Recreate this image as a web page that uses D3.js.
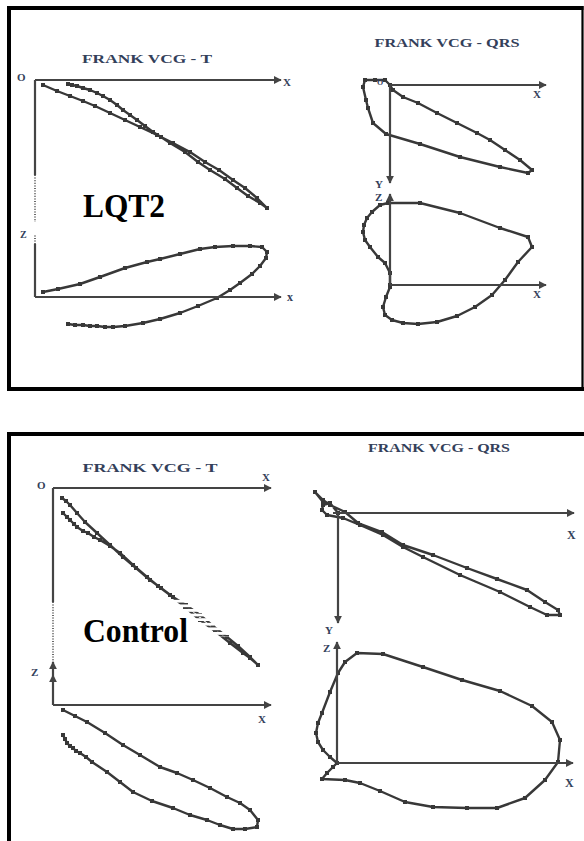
<!DOCTYPE html>
<html><head><meta charset="utf-8">
<script src="https://cdn.jsdelivr.net/npm/d3@7"></script>
<style>html,body{margin:0;padding:0;background:#fff;overflow:hidden}</style>
</head><body>
<script>
// ---------------- DATA (units: arbitrary VCG units, origin = 0) ----------------
// LQT2 – T loop, horizontal plane (X right, Y down)
const lqt2_T_XY = [[3.3,0.4],[3.7,0.5],[4.2,0.6],[4.8,0.8],[5.5,1.0],[6.2,1.3],[6.8,1.6],[7.5,2.0],[8.2,2.5],[8.8,3.0],[9.5,3.5],[10.2,4.0],[11.0,4.6],[11.8,5.2],[12.6,5.7],[13.5,6.3],[15.0,7.2],[16.3,8.2],[17.5,9.0],[19.0,9.9],[20.2,10.8],[21.3,11.6],[22.5,12.3],[23.2,12.8],
 [22.2,11.8],[21.0,10.8],[19.8,10.0],[18.4,9.0],[17.0,8.2],[15.5,7.2],[13.8,6.3],[12.2,5.5],[10.5,4.7],[9.0,4.0],[7.5,3.3],[6.0,2.6],[4.8,2.1],[3.5,1.6],[2.2,1.1],[0.8,0.5]];
// LQT2 – T loop, frontal plane (X right, Z up)
const lqt2_T_XZ = [[3.3,-2.7],[4.0,-2.8],[4.8,-2.8],[5.5,-2.9],[6.2,-2.9],[7.0,-3.0],[7.8,-3.0],[9.0,-2.9],[10.8,-2.6],[12.5,-2.2],[14.5,-1.6],[16.3,-0.9],[18.2,-0.1],[19.5,0.7],[20.5,1.4],[21.7,2.3],[22.5,3.1],[23.1,3.9],[23.2,4.5],[22.7,5.0],[21.5,5.1],[19.8,5.1],[18.0,5.0],[16.5,4.8],[14.5,4.3],[12.5,3.8],[11.2,3.5],[9.0,2.9],[6.5,2.0],[4.5,1.3],[2.3,0.8],[0.8,0.5]];
// LQT2 – QRS loop, horizontal plane
const lqt2_QRS_XY = [[0,0],[-0.5,-0.5],[-1.5,-0.5],[-2.5,-0.5],[-2.7,0.2],[-2.4,1.5],[-2.2,2.3],[-1.7,3.8],[-0.4,4.9],[3.0,5.9],[7.0,7.2],[11.0,8.2],[13.8,8.8],[14.2,8.5],[13.0,7.5],[11.5,6.5],[10.0,5.5],[8.7,4.8],[6.7,3.8],[4.7,2.8],[2.8,1.8],[1.3,1.2],[0.3,0.5],[0,0]];
// LQT2 – QRS loop, frontal plane
const lqt2_QRS_XZ = [[0,0],[0,1.2],[-0.5,2.2],[-1.2,2.8],[-2.0,3.8],[-2.5,4.5],[-2.7,5.3],[-2.6,6.0],[-2.3,6.7],[-1.8,7.3],[-1.0,8.0],[-0.2,8.2],[3.0,8.2],[7.0,7.2],[11.0,5.7],[13.8,4.8],[14.2,3.8],[12.8,2.3],[11.5,0.5],[10.2,-1.0],[8.5,-2.2],[6.7,-3.1],[4.7,-3.7],[2.8,-3.9],[1.3,-3.8],[0.2,-3.5],[-0.5,-3.0],[-0.7,-2.2],[-0.4,-1.2],[0,-0.2]];
// Control – T loop, horizontal plane
const ctrl_T_XY = [[1.0,2.5],[1.4,2.9],[1.7,3.2],[2.1,3.6],[2.4,3.9],[3.0,4.3],[3.5,4.5],[4.1,4.9],[4.7,5.2],[5.7,5.8],[6.7,6.5],[8.0,7.7],[9.4,8.9],[10.5,9.8],[11.7,10.7],[13.2,11.9],[14.7,13.2],[16.2,14.3],[17.7,15.5],[19.0,16.5],[19.7,17.0],[20.5,17.7],
 [19.7,16.9],[18.5,15.8],[17.4,14.9],[16.0,13.8],[14.7,12.7],[13.3,11.7],[12.0,10.9],[10.8,10.0],[9.7,9.2],[8.3,8.0],[7.0,6.9],[5.7,5.7],[4.4,4.5],[3.2,3.4],[2.4,2.5],[1.7,1.7],[1.3,1.3],[0.9,1.0]];
// Control – T loop, frontal plane
const ctrl_T_XZ = [[1.0,-3.0],[1.2,-3.4],[1.4,-3.8],[1.7,-4.1],[2.0,-4.3],[2.3,-4.6],[2.7,-4.8],[3.3,-5.2],[3.9,-5.7],[5.4,-6.7],[6.7,-7.7],[8.0,-8.7],[9.9,-9.6],[12.0,-10.3],[13.7,-11.0],[15.4,-11.5],[16.7,-12.0],[18.0,-12.4],[19.2,-12.4],[20.4,-12.2],[20.5,-11.5],[19.7,-10.5],[18.7,-9.8],[17.4,-9.2],[15.7,-8.3],[14.0,-7.5],[12.4,-6.8],[10.7,-6.2],[8.7,-5.0],[7.0,-4.0],[5.2,-2.8],[3.4,-1.7],[2.2,-1.1],[1.0,-0.5]];
// Control – QRS loop, horizontal plane
const ctrl_QRS_XY = [[0,0],[-0.8,-1.0],[-1.5,-1.1],[-2.3,-2.1],[-1.5,-1.3],[-0.8,-0.8],[0.7,-0.1],[2.0,1.0],[4.4,1.9],[6.5,3.2],[9.5,4.2],[12.9,5.5],[15.9,6.6],[18.9,7.7],[20.7,8.9],[22.0,9.7],[22.2,10.2],[20.9,10.2],[19.2,9.4],[16.2,7.9],[12.2,6.2],[8.5,4.4],[6.5,3.4],[4.5,2.2],[2.2,1.2],[0.5,0.5],[-1.1,0.2],[-1.6,-0.3],[-1.5,-0.8],[-0.8,-1.0]];
// Control – QRS loop, frontal plane
const ctrl_QRS_XZ = [[0,0],[-0.7,0.6],[-1.4,1.3],[-1.9,2.1],[-2.1,3.0],[-1.9,4.0],[-1.5,5.0],[-0.7,7.1],[0.1,9.0],[0.8,10.1],[2.0,11.0],[4.6,10.9],[8.6,9.6],[12.5,8.3],[16.3,7.2],[19.5,5.7],[21.5,4.1],[22.3,2.3],[22.1,0.1],[20.8,-1.7],[18.8,-3.5],[16.0,-4.5],[13.0,-4.5],[9.6,-4.4],[6.8,-3.9],[4.3,-2.8],[2.3,-2.0],[0.8,-1.7],[-1.5,-1.6],[-1.0,-1.0],[-0.4,-0.4],[0,0]];

const titlesT = "FRANK VCG -  T";
const titlesQRS = "FRANK VCG - QRS";
const groupLabels = ["LQT2", "Control"];

// ---------------- DRAWING ----------------
const W = 584, H = 841;
const svg = d3.select("body").append("svg").attr("width", W).attr("height", H)
  .style("display","block").style("background","#fff");
const defs = svg.append("defs");
defs.append("marker").attr("id","arr").attr("viewBox","0 0 10 10").attr("refX",9).attr("refY",5)
  .attr("markerWidth",8).attr("markerHeight",8).attr("markerUnits","userSpaceOnUse").attr("orient","auto")
  .append("path").attr("d","M0,0 L10,5 L0,10 z").attr("fill","#444");
// stripe mask (scan artefact on the control T loop)
const pat = defs.append("pattern").attr("id","stripes").attr("patternUnits","userSpaceOnUse")
  .attr("width",8).attr("height",4.6);
pat.append("rect").attr("x",0).attr("y",0).attr("width",8).attr("height",1.8).attr("fill","#fff");
const mask = defs.append("mask").attr("id","scanmask").attr("maskUnits","userSpaceOnUse")
  .attr("x",0).attr("y",0).attr("width",W).attr("height",H);
mask.append("rect").attr("x",0).attr("y",0).attr("width",W).attr("height",H).attr("fill","#fff");
mask.append("rect").attr("x",172).attr("y",599).attr("width",58).attr("height",38).attr("fill","#000");
mask.append("rect").attr("x",172).attr("y",599).attr("width",58).attr("height",38).attr("fill","url(#stripes)");

const LINE = "#383838", AX = "#444", TXT = "#33405a";
const serif = "'Liberation Serif','Times New Roman',serif";

// frames
function seg(x1,y1,x2,y2,w){ svg.append("line").attr("x1",x1).attr("y1",y1).attr("x2",x2).attr("y2",y2)
  .attr("stroke","#000").attr("stroke-width",w); }
seg(7,8,583.5,8,4); seg(9,6,9,391,4); seg(7,389,584,389,4); seg(582.5,6,582.5,391,2.2);
seg(7,434,584,434,4); seg(9,432,9,841,4);

function text(t,x,y,size,opts={}){
  const el = svg.append("text").attr("x",x).attr("y",y).text(t)
    .attr("font-family",serif).attr("font-weight","bold").attr("font-size",size)
    .attr("fill",opts.fill||TXT).attr("text-anchor",opts.anchor||"start");
  if(opts.len){ el.attr("textLength",opts.len).attr("lengthAdjust","spacingAndGlyphs"); }
  return el;
}

// panel: origin px; vertical axis direction (+1 down for Y, -1 up for Z)
function panel(data, ox, oy, dir, opts={}){
  const xs = d3.scaleLinear().domain([0,10]).range([ox, ox+100]);
  const ys = d3.scaleLinear().domain([0,10]).range([oy, oy+100*dir]);
  const g = svg.append("g");
  if(opts.mask) g.attr("mask","url(#scanmask)");
  const line = d3.line().x(d=>xs(d[0])).y(d=>ys(d[1])).curve(d3.curveLinear);
  g.append("path").datum(data).attr("d",line).attr("fill","none").attr("stroke",LINE)
    .attr("stroke-width",2.4).attr("stroke-linejoin","round");
  g.selectAll("rect.m").data(data).join("rect").attr("class","m")
    .attr("x",d=>xs(d[0])-2).attr("y",d=>ys(d[1])-2).attr("width",4).attr("height",4)
    .attr("fill",LINE);
  return {xs, ys};
}
function axisLine(x1,y1,x2,y2,arrow,dash){
  const l = svg.append("line").attr("x1",x1).attr("y1",y1).attr("x2",x2).attr("y2",y2)
    .attr("stroke",AX).attr("stroke-width",2.2);
  if(arrow) l.attr("marker-end","url(#arr)");
  if(dash) l.attr("stroke-dasharray",dash).attr("stroke-width",1.6);
}

// ===== LQT2 block =====
let p = panel(lqt2_T_XY, 35, 80, 1);
axisLine(p.xs(0),p.ys(0),p.xs(24.6),p.ys(0),true);
axisLine(p.xs(0),p.ys(0),p.xs(0),p.ys(9.5),false);
axisLine(p.xs(0),p.ys(9.5),p.xs(0),p.ys(14.2),false,"1,1.6");
text("O",17,81,11); text("X",283,86,11);
text(titlesT,147,63,13,{anchor:"middle",len:130});
p = panel(lqt2_T_XZ, 35, 297, -1);
axisLine(p.xs(0),p.ys(0),p.xs(24.6),p.ys(0),true);
axisLine(p.xs(0),p.ys(0),p.xs(0),p.ys(5.3),false);
axisLine(p.xs(0),p.ys(5.3),p.xs(0),p.ys(6.2),false,"1,1.5");
text("Z",20,238,10); text("x",287,301,12);
p = panel(lqt2_QRS_XY, 390, 85, 1);
axisLine(p.xs(0),p.ys(0),p.xs(15.6),p.ys(0),true);
axisLine(p.xs(0),p.ys(0),p.xs(0),p.ys(9.8),true);
text("O",377,85,8); text("X",533,98,11); text("Y",375,188,11);
text(titlesQRS,447,47,13,{anchor:"middle",len:145});
p = panel(lqt2_QRS_XZ, 390, 285, -1);
axisLine(p.xs(0),p.ys(0),p.xs(15.6),p.ys(0),true);
axisLine(p.xs(0),p.ys(0),p.xs(0),p.ys(9.1),true);
text("Z",375,201,11); text("X",533,298,11);
text(groupLabels[0],83,217,33,{fill:"#000",len:82});

// ===== Control block =====
p = panel(ctrl_T_XY, 53, 488, 1, {mask:true});
axisLine(p.xs(0),p.ys(0),p.xs(21.8),p.ys(0),true);
axisLine(p.xs(0),p.ys(0),p.xs(0),p.ys(11.4),false);
axisLine(p.xs(0),p.ys(11.4),p.xs(0),p.ys(17.4),false,"1,1.6");
text("O",37,489,11); text("X",262,481,11);
text(titlesT,150,472,13,{anchor:"middle",len:135});
p = panel(ctrl_T_XZ, 53, 705, -1);
axisLine(p.xs(0),p.ys(0),p.xs(21.8),p.ys(0),true);
axisLine(p.xs(0),p.ys(0),p.xs(0),p.ys(3.0),true);
axisLine(p.xs(0),p.ys(3.0),p.xs(0),p.ys(4.3),true);
text("Z",31,676,11); text("X",258,723,11);
p = panel(ctrl_QRS_XY, 338, 513, 1);
axisLine(p.xs(-0.5),p.ys(0),p.xs(23.6),p.ys(0),true);
axisLine(p.xs(0),p.ys(0),p.xs(0),p.ys(11),true);
text("X",567,539,12); text("Y",325,634,11);
text(titlesQRS,439,452,13,{anchor:"middle",len:142});
p = panel(ctrl_QRS_XZ, 337, 763, -1);
axisLine(p.xs(0),p.ys(0),p.xs(23.6),p.ys(0),true);
axisLine(p.xs(0),p.ys(0),p.xs(0),p.ys(12.1),true);
text("Z",323,652,11); text("X",565,787,12);
text(groupLabels[1],83,642,33,{fill:"#000",len:105});
</script>
</body></html>
